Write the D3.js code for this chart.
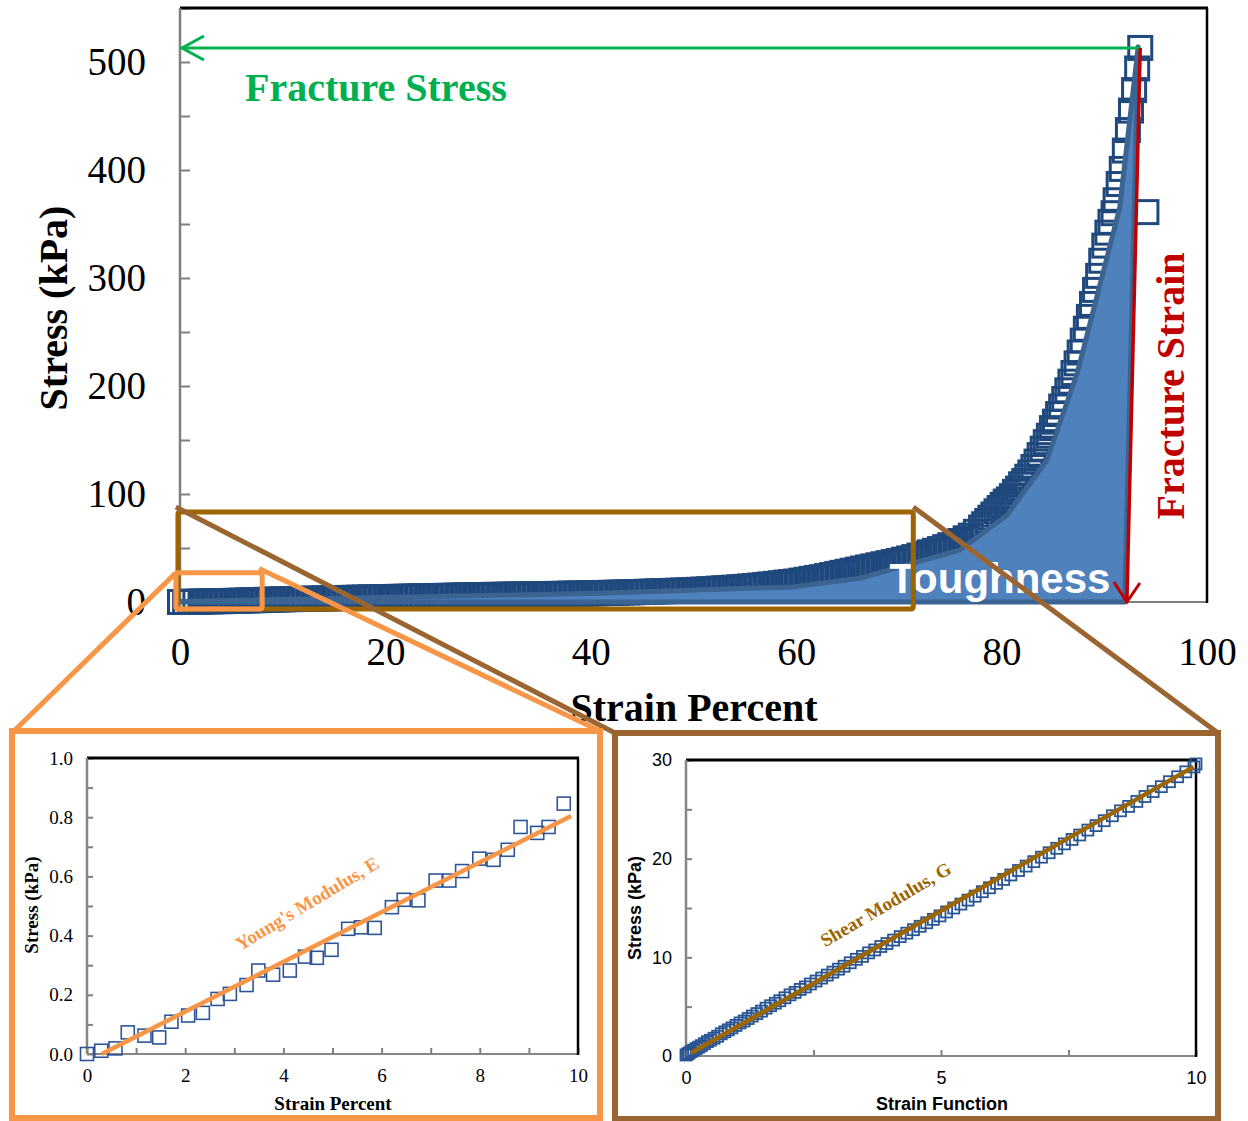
<!DOCTYPE html>
<html>
<head>
<meta charset="utf-8">
<script src="https://d3js.org/d3.v7.min.js"></script>
<style>
  body { margin: 0; background: #fff; }
  svg { display: block; }
</style>
</head>
<body>
<script>
// main stress-strain curve (strain %, stress kPa)
var mainStrain = [
  0, 0.5, 1, 1.5, 2, 2.5, 3, 3.5, 4, 4.5, 5, 5.5, 6, 6.5, 7, 7.5, 8, 8.5, 9, 9.5, 10,
  10.5, 11, 11.5, 12, 12.5, 13, 13.5, 14, 14.5, 15, 15.5, 16, 16.5, 17, 17.5, 18, 18.5, 19, 19.5, 20,
  20.5, 21, 21.5, 22, 22.5, 23, 23.5, 24, 24.5, 25, 25.5, 26, 26.5, 27, 27.5, 28, 28.5, 29, 29.5, 30,
  30.5, 31, 31.5, 32, 32.5, 33, 33.5, 34, 34.5, 35, 35.5, 36, 36.5, 37, 37.5, 38, 38.5, 39, 39.5, 40,
  40.5, 41, 41.5, 42, 42.5, 43, 43.5, 44, 44.5, 45, 45.5, 46, 46.5, 47, 47.5, 48, 48.5, 49, 49.5, 50,
  50.5, 51, 51.5, 52, 52.5, 53, 53.5, 54, 54.5, 55, 55.5, 56, 56.5, 57, 57.5, 58, 58.5, 59, 59.5, 60,
  60.5, 61, 61.5, 62, 62.5, 63, 63.5, 64, 64.5, 65, 65.5, 66, 66.5, 67, 67.5, 68, 68.5, 69, 69.5, 70,
  70.5, 71, 71.5, 72, 72.5, 73, 73.5, 74, 74.5, 75, 75.5, 76, 76.5, 77, 77.5, 78,
  78.3, 78.6, 78.9, 79.2, 79.5, 79.8, 80.1, 80.4, 80.7, 81.0, 81.3, 81.6, 81.9, 82.2, 82.5, 82.8,
  83.1, 83.4, 83.7, 84.0, 84.3, 84.6, 84.9, 85.2, 85.5, 85.8, 86.1, 86.4, 86.7, 87.0, 87.3, 87.6,
  87.9, 88.2, 88.5, 88.8, 89.1, 89.4, 89.7, 90.0, 90.3, 90.6, 90.9, 91.1, 91.4, 91.7, 92.0, 92.3,
  92.6, 92.9, 93.2, 93.5, 94.1
]
var mainStress = [
  0.0, 0.1, 0.2, 0.3, 0.4, 0.5, 0.6, 0.7, 0.8, 0.9, 1.0, 1.1, 1.3, 1.4, 1.6, 1.7, 1.9, 2.0, 2.2, 2.3, 2.5,
  2.6, 2.7, 2.8, 2.9, 3.0, 3.1, 3.2, 3.3, 3.4, 3.5, 3.6, 3.7, 3.8, 3.9, 4.0, 4.1, 4.2, 4.3, 4.4, 4.5,
  4.6, 4.7, 4.8, 4.9, 5.0, 5.1, 5.2, 5.3, 5.4, 5.5, 5.6, 5.7, 5.8, 5.9, 6.0, 6.1, 6.2, 6.3, 6.4, 6.5,
  6.6, 6.6, 6.7, 6.8, 6.9, 6.9, 7.0, 7.1, 7.2, 7.2, 7.3, 7.4, 7.5, 7.5, 7.6, 7.7, 7.8, 7.8, 7.9, 8.0,
  8.1, 8.2, 8.4, 8.5, 8.6, 8.8, 8.9, 9.0, 9.2, 9.3, 9.5, 9.6, 9.8, 10.0, 10.1, 10.3, 10.5, 10.6, 10.8, 11.0,
  11.3, 11.5, 11.8, 12.1, 12.4, 12.7, 13.0, 13.3, 13.7, 14.0, 14.4, 14.8, 15.3, 15.8, 16.3, 16.8, 17.4, 18.0, 18.5, 19.0,
  19.8, 20.6, 21.4, 22.2, 23.0, 24.0, 25.0, 26.0, 27.0, 28.0, 29.0, 30.0, 31.0, 32.0, 33.0, 34.0, 35.0, 36.0, 37.0, 38.0,
  39.2, 40.4, 41.6, 43.0, 44.5, 46.0, 47.5, 49.0, 50.8, 52.6, 54.5, 56.5, 59.0, 61.5, 65.0, 69.0,
  72, 75, 78, 81, 84, 87, 90, 93, 95, 98, 102, 105, 109, 112, 116, 120,
  125, 130, 136, 142, 148, 154, 161, 167, 174, 181, 188, 196, 204, 212, 221, 231,
  242, 253, 264, 276, 289, 302, 316, 330, 342, 352, 360, 372, 387, 401, 418, 437,
  455, 474, 494, 513, 361
]

// outline of the shaded toughness area
var toughStrain = [0, 40.9, 59.7, 66.2, 75.9, 80.5, 84.4, 87.4, 91.5, 93.3, 92.0]
var toughStress = [0.5, 8, 14, 22, 48, 80, 131, 213, 365, 514, 0]

var fractureStrain = 92.2
var fractureStress = 513
var fractureTopStrain = 93.5

var mainYTicks = [0, 50, 100, 150, 200, 250, 300, 350, 400, 450, 500, 550]
var mainXTicks = [0, 20, 40, 60, 80, 100]

// Young's modulus inset
var youngStrain = [0, 0.29, 0.58, 0.83, 1.17, 1.47, 1.72, 2.06, 2.36, 2.66, 2.91, 3.25, 3.49, 3.79, 4.13, 4.44, 4.68,
  4.98, 5.32, 5.58, 5.86, 6.21, 6.45, 6.75, 7.10, 7.38, 7.64, 7.99, 8.28, 8.57, 8.83, 9.17, 9.40, 9.71]
var youngStress = [0.0, 0.011, 0.019, 0.073, 0.062, 0.056, 0.109, 0.130, 0.139, 0.186, 0.203, 0.233, 0.282, 0.268, 0.282,
  0.329, 0.325, 0.352, 0.423, 0.428, 0.426, 0.496, 0.521, 0.519, 0.586, 0.586, 0.618, 0.660, 0.656, 0.690, 0.767,
  0.747, 0.767, 0.846]
var youngFitStrain = [0.3, 9.86]
var youngFitStress = [0.0, 0.804]
var youngYTicks = [0, 0.1, 0.2, 0.3, 0.4, 0.5, 0.6, 0.7, 0.8, 0.9, 1.0]
var youngXTicks = [0, 1, 2, 3, 4, 5, 6, 7, 8, 9, 10]

// shear modulus inset
var shearFunc = [0, 0.03, 0.06, 0.1, 0.15, 0.2, 0.25, 0.3, 0.36, 0.42, 0.48, 0.55, 0.62, 0.69, 0.76, 0.83, 0.9, 0.98,
  1.06, 1.14, 1.22, 1.3, 1.39, 1.48, 1.57, 1.66, 1.75, 1.84, 1.94, 2.04, 2.14, 2.24, 2.34, 2.44, 2.55, 2.66, 2.77,
  2.88, 2.99, 3.1, 3.22, 3.34, 3.46, 3.58, 3.7, 3.82, 3.94, 4.07, 4.2, 4.33, 4.46, 4.59, 4.72, 4.85, 4.98, 5.11,
  5.25, 5.39, 5.53, 5.67, 5.81, 5.95, 6.09, 6.23, 6.37, 6.52, 6.67, 6.82, 6.97, 7.12, 7.27, 7.42, 7.57, 7.72,
  7.88, 8.04, 8.2, 8.36, 8.52, 8.68, 8.84, 9.0, 9.16, 9.32, 9.48, 9.64, 9.8, 9.96, 10.0]
var shearStress = [0.1, 0.2, 0.3, 0.45, 0.6, 0.75, 0.9, 1.05, 1.25, 1.45, 1.6, 1.8, 2.0, 2.25, 2.45, 2.65, 2.85, 3.1,
  3.35, 3.55, 3.8, 4.05, 4.3, 4.55, 4.85, 5.1, 5.35, 5.6, 5.9, 6.2, 6.45, 6.75, 7.0, 7.3, 7.6, 7.9, 8.2,
  8.5, 8.8, 9.1, 9.45, 9.8, 10.1, 10.45, 10.75, 11.1, 11.4, 11.75, 12.1, 12.45, 12.8, 13.15, 13.5, 13.85, 14.2, 14.6,
  15.0, 15.4, 15.8, 16.2, 16.65, 17.05, 17.5, 17.9, 18.35, 18.8, 19.25, 19.7, 20.15, 20.6, 21.05, 21.5, 21.95, 22.4,
  22.9, 23.35, 23.85, 24.35, 24.85, 25.3, 25.8, 26.3, 26.8, 27.3, 27.8, 28.3, 28.8, 29.3, 29.6]
var shearFitFunc = [0.1, 9.95]
var shearFitStress = [0.3, 29.3]
var shearYTicks = [0, 5, 10, 15, 20, 25, 30]
var shearXTicks = [0, 2.5, 5, 7.5, 10]

var SERIF = '"Liberation Serif", "Times New Roman", serif'
var SANS = '"Liberation Sans", Arial, sans-serif'
var GREEN = '#00b050'
var RED = '#c00000'
var ORANGE = '#f79646'
var GOLD = '#9c6500'
var BROWN = '#9b6532'
var MARK = '#1f497d'

var svg = d3.select('body').append('svg')
.attr('width', 1248)
.attr('height', 1121)

function zip (a, b) {
  return a.map(function (v, i) { return [v, b[i]] })
}

function frame (g, x, y, sideColor) {
  var x0 = x.range()[0], x1 = x.range()[1]
  var y0 = y.range()[0], y1 = y.range()[1]
  g.append('line').attr('x1', x0).attr('y1', y0).attr('x2', x1).attr('y2', y0)
  .attr('stroke', sideColor).attr('stroke-width', 2)
  g.append('line').attr('x1', x0).attr('y1', y1).attr('x2', x1 + 1).attr('y2', y1)
  .attr('stroke', '#000').attr('stroke-width', 3)
  g.append('line').attr('x1', x1).attr('y1', y1).attr('x2', x1).attr('y2', y0 + 1)
  .attr('stroke', '#000').attr('stroke-width', 2.5)
  g.append('line').attr('x1', x0).attr('y1', y1).attr('x2', x0).attr('y2', y0)
  .attr('stroke', sideColor).attr('stroke-width', 2.5)
}

function styleAxis (sel, font, size) {
  sel.select('.domain').remove()
  sel.selectAll('.tick line').attr('stroke', '#7f7f7f').attr('stroke-width', 2)
  sel.selectAll('.tick text').attr('fill', '#000').style('font-family', font).style('font-size', size + 'px')
}

function squares (g, x, y, pts, size, color, width) {
  g.selectAll(null)
  .data(pts)
  .enter().append('rect')
  .attr('x', function (d) { return x(d[0]) - size / 2 })
  .attr('y', function (d) { return y(d[1]) - size / 2 })
  .attr('width', size)
  .attr('height', size)
  .attr('fill', 'none')
  .attr('stroke', color)
  .attr('stroke-width', width)
}

// ---------------- main chart ----------------
var x = d3.scaleLinear().domain([0, 100]).range([180, 1207])
var y = d3.scaleLinear().domain([0, 550]).range([602, 8])
var main = svg.append('g')

main.append('g')
.attr('transform', 'translate(180,0)')
.call(d3.axisLeft(y).tickValues(mainYTicks).tickSize(-10).tickPadding(34)
  .tickFormat(function (d) { return d % 100 === 0 ? d : '' }))
.call(styleAxis, SERIF, 39)

main.append('g')
.attr('transform', 'translate(0,602)')
.call(d3.axisBottom(x).tickValues(mainXTicks).tickSize(0).tickPadding(35))
.call(styleAxis, SERIF, 39)

frame(main, x, y, '#7f7f7f')

squares(main, x, y, zip(mainStrain, mainStress), 23, MARK, 3)

var toughPts = zip(toughStrain, toughStress)
toughPts.push([0, 0])
main.append('path')
.attr('d', d3.line().x(function (d) { return x(d[0]) }).y(function (d) { return y(d[1]) })(toughPts) + 'Z')
.attr('fill', '#4f81bd')
.attr('stroke', '#3b6493')
.attr('stroke-width', 5)
.attr('stroke-linejoin', 'round')

main.append('text')
.attr('x', 1000).attr('y', 593)
.attr('text-anchor', 'middle')
.style('font-family', SANS).style('font-weight', 'bold').style('font-size', '42px')
.attr('fill', '#fff')
.text('Toughness')

// fracture stress arrow
var gy = y(fractureStress)
main.append('line')
.attr('x1', x(fractureTopStrain)).attr('y1', gy).attr('x2', x(0) + 2).attr('y2', gy)
.attr('stroke', GREEN).attr('stroke-width', 3)
main.append('path')
.attr('d', 'M' + (x(0) + 24) + ',' + (gy - 12) + 'L' + (x(0) + 2) + ',' + gy + 'L' + (x(0) + 24) + ',' + (gy + 12))
.attr('fill', 'none').attr('stroke', GREEN).attr('stroke-width', 3)
main.append('text')
.attr('x', 245).attr('y', 101)
.style('font-family', SERIF).style('font-weight', 'bold').style('font-size', '40px')
.attr('fill', GREEN)
.text('Fracture Stress')

// fracture strain arrow
var rx0 = x(fractureTopStrain), ry0 = gy
var rx1 = x(fractureStrain), ry1 = y(0)
main.append('line')
.attr('x1', rx0).attr('y1', ry0).attr('x2', rx1).attr('y2', ry1)
.attr('stroke', RED).attr('stroke-width', 3.5)
main.append('path')
.attr('d', 'M' + (rx1 - 13) + ',' + (ry1 - 20) + 'L' + rx1 + ',' + ry1 + 'L' + (rx1 + 13) + ',' + (ry1 - 19))
.attr('fill', 'none').attr('stroke', RED).attr('stroke-width', 3)
main.append('text')
.attr('transform', 'translate(1184,386) rotate(-90)')
.attr('text-anchor', 'middle')
.style('font-family', SERIF).style('font-weight', 'bold').style('font-size', '40px')
.attr('fill', RED)
.text('Fracture Strain')

main.append('text')
.attr('transform', 'translate(67,308) rotate(-90)')
.attr('text-anchor', 'middle')
.style('font-family', SERIF).style('font-weight', 'bold').style('font-size', '40px')
.text('Stress (kPa)')
main.append('text')
.attr('x', 694).attr('y', 721)
.attr('text-anchor', 'middle')
.style('font-family', SERIF).style('font-weight', 'bold').style('font-size', '40px')
.text('Strain Percent')

// ---------------- insets ----------------
function inset (cfg) {
  var g = svg.append('g')
  g.append('rect')
  .attr('x', cfg.box[0]).attr('y', cfg.box[1]).attr('width', cfg.box[2]).attr('height', cfg.box[3])
  .attr('fill', '#fff').attr('stroke', cfg.boxColor).attr('stroke-width', 6)

  var sx = d3.scaleLinear().domain(cfg.xDomain).range(cfg.xRange)
  var sy = d3.scaleLinear().domain(cfg.yDomain).range(cfg.yRange)

  g.append('g')
  .attr('transform', 'translate(' + cfg.xRange[0] + ',0)')
  .call(d3.axisLeft(sy).tickValues(cfg.yTicks).tickSize(-6).tickPadding(14).tickFormat(cfg.yFormat))
  .call(styleAxis, cfg.font, cfg.tickSize)
  g.append('g')
  .attr('transform', 'translate(0,' + cfg.yRange[0] + ')')
  .call(d3.axisBottom(sx).tickValues(cfg.xTicks).tickSize(-6).tickPadding(15).tickFormat(cfg.xFormat))
  .call(styleAxis, cfg.font, cfg.tickSize)

  frame(g, sx, sy, '#868686')

  squares(g, sx, sy, cfg.points, cfg.markSize, cfg.markColor, cfg.markWidth)

  var fit = cfg.fit
  g.append('line')
  .attr('x1', sx(fit[0][0])).attr('y1', sy(fit[0][1]))
  .attr('x2', sx(fit[1][0])).attr('y2', sy(fit[1][1]))
  .attr('stroke', cfg.fitColor).attr('stroke-width', 4.5)

  g.append('text')
  .attr('transform', 'translate(' + sx(cfg.labelAt[0]) + ',' + sy(cfg.labelAt[1]) + ') rotate(' + cfg.labelAngle + ')')
  .attr('text-anchor', 'middle')
  .style('font-family', SERIF).style('font-weight', 'bold').style('font-size', '19px')
  .attr('fill', cfg.fitColor)
  .text(cfg.label)

  g.append('text')
  .attr('transform', 'translate(' + cfg.yTitle[0] + ',' + cfg.yTitle[1] + ') rotate(-90)')
  .attr('text-anchor', 'middle')
  .style('font-family', cfg.font).style('font-weight', 'bold').style('font-size', cfg.titleSize + 'px')
  .text('Stress (kPa)')
  g.append('text')
  .attr('x', cfg.xTitle[0]).attr('y', cfg.xTitle[1])
  .attr('text-anchor', 'middle')
  .style('font-family', cfg.font).style('font-weight', 'bold').style('font-size', cfg.titleSize + 'px')
  .text(cfg.xLabel)
}

// zoom boxes and connector lines in the main chart
function zoomBox (x0, x1, y0, y1, color) {
  main.append('rect')
  .attr('x', x(x0)).attr('y', y(y1))
  .attr('width', x(x1) - x(x0)).attr('height', y(y0) - y(y1))
  .attr('rx', 2)
  .attr('fill', 'none').attr('stroke', color).attr('stroke-width', 5)
}
function connector (x1, y1, x2, y2, color) {
  svg.append('line')
  .attr('x1', x1).attr('y1', y1).attr('x2', x2).attr('y2', y2)
  .attr('stroke', color).attr('stroke-width', 5)
}

zoomBox(-0.2, 71.4, -6.5, 83.3, GOLD)
connector(x(-0.4), y(88), 615, 733, BROWN)
connector(x(71.4), y(88), 1218, 733, BROWN)

inset({
  box: [12, 731, 588, 387],
  boxColor: ORANGE,
  xDomain: [0, 10], xRange: [87, 578],
  yDomain: [0, 1], yRange: [1054, 758],
  xTicks: youngXTicks, yTicks: youngYTicks,
  xFormat: function (d) { return d % 2 === 0 ? d : '' },
  yFormat: function (d) { return Math.round(d * 10) % 2 === 0 ? d3.format('.1f')(d) : '' },
  font: SERIF, tickSize: 19, titleSize: 19,
  points: zip(youngStrain, youngStress), markSize: 13, markColor: '#2f5597', markWidth: 1.6,
  fit: zip(youngFitStrain, youngFitStress), fitColor: ORANGE,
  label: "Young's Modulus, E", labelAt: [4.55, 0.49], labelAngle: -31,
  yTitle: [38, 905], xTitle: [333, 1110], xLabel: 'Strain Percent'
})

inset({
  box: [615, 733, 603, 386],
  boxColor: BROWN,
  xDomain: [0, 10], xRange: [686, 1196],
  yDomain: [0, 30], yRange: [1056, 760],
  xTicks: shearXTicks, yTicks: shearYTicks,
  xFormat: function (d) { return d % 5 === 0 ? d : '' },
  yFormat: function (d) { return d % 10 === 0 ? d : '' },
  font: SANS, tickSize: 18, titleSize: 18,
  points: zip(shearFunc, shearStress), markSize: 11, markColor: '#285493', markWidth: 1.8,
  fit: zip(shearFitFunc, shearFitStress), fitColor: GOLD,
  label: 'Shear Modulus, G', labelAt: [3.98, 14.8], labelAngle: -30.5,
  yTitle: [641, 908], xTitle: [942, 1110], xLabel: 'Strain Function'
})

zoomBox(-0.4, 8.0, -6.5, 27, ORANGE)
connector(x(-0.4), y(27), 14, 731, ORANGE)
connector(x(7.7), y(31), 600, 731, ORANGE)
</script>
</body>
</html>
